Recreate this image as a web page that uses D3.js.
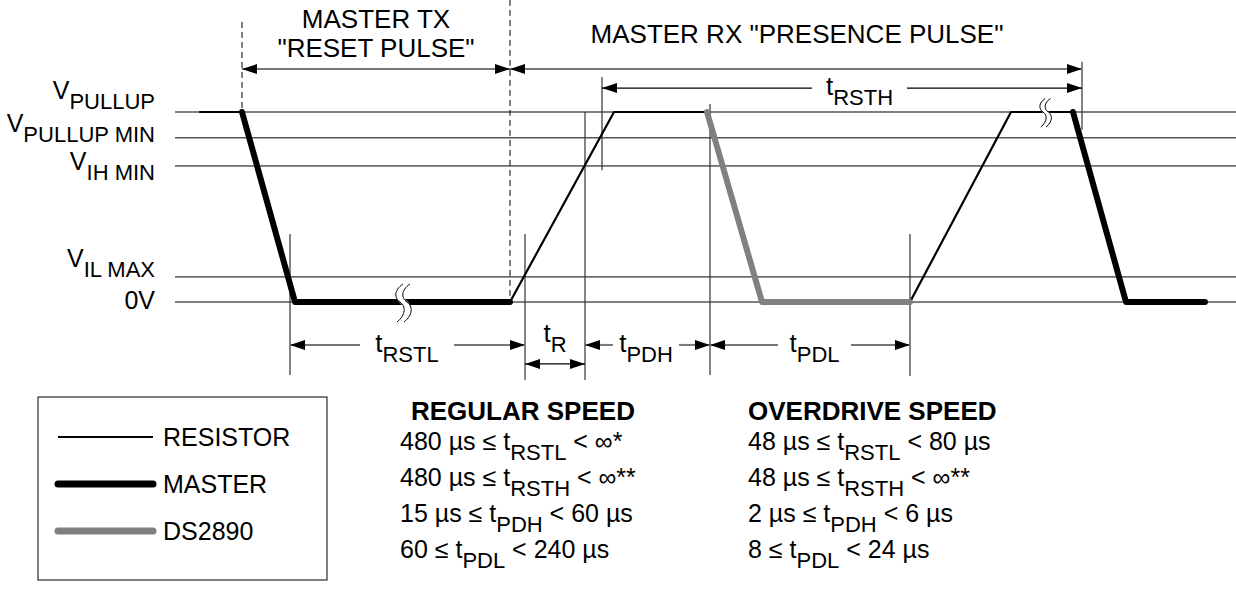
<!DOCTYPE html>
<html>
<head>
<meta charset="utf-8">
<script src="https://cdn.jsdelivr.net/npm/d3@7"></script>
<style>
  body { margin: 0; background: #fff; }
  svg text { font-family: "Liberation Sans", Arial, sans-serif; fill: #000; }
</style>
</head>
<body>
<div id="chart"></div>
<script>
// Voltage levels (schematic volts) and their labels
const levelMain = ["V", "V", "V", "V", "0V"];
const levelSub = ["PULLUP", "PULLUP MIN", "IH MIN", "IL MAX", ""];
const levelVolts = [5, 4.32, 3.58, 0.66, 0];

// Waveform pieces, [time, volts]
const resistorPieces = [
    [[200, 5], [242, 5]],
    [[510, 0], [614, 5], [707, 5]],
    [[910, 0], [1011, 5], [1073, 5]]
];
const masterPieces = [
    [[242, 5], [295, 0], [510, 0]],
    [[1073, 5], [1126, 0], [1205, 0]]
];
const ds2890Pieces = [
    [[707, 5], [762, 0], [910, 0]]
];

// Break marks [time, volts, size]
const breaks = [[400, 0, 1], [1043, 5, 0.75]];

// Timing markers [time, top volts, bottom volts]
const markers = [
    [290, 1.79, -1.92], [525, 1.79, -2.05], [585, 5, -2.05],
    [602, 5.92, 3.47], [710, 5.21, -1.92], [910, 1.79, -1.95], [1082, 6.32, 4.53]
];
const dashedMarkers = [[242, 7.37, 5], [510, 7.95, 0]];

// Dimension arrows: from, to, volts level, label main, label sub, text gap
const dims = [
    { from: 242, to: 510, v: 6.13, main: "", sub: "", gap: null, grey: true },
    { from: 510, to: 1082, v: 6.13, main: "", sub: "", gap: null, grey: true },
    { from: 602, to: 1082, v: 5.63, main: "t", sub: "RSTH", gap: [812, 907], grey: false },
    { from: 290, to: 525, v: -1.13, main: "t", sub: "RSTL", gap: [360, 454], grey: true },
    { from: 525, to: 585, v: -1.63, main: "t", sub: "R", gap: null, grey: false },
    { from: 585, to: 710, v: -1.13, main: "t", sub: "PDH", gap: [613, 679], grey: true },
    { from: 710, to: 910, v: -1.13, main: "t", sub: "PDL", gap: [778, 851], grey: true }
];

const legendNames = ["RESISTOR", "MASTER", "DS2890"];

const specHeads = ["REGULAR SPEED", "OVERDRIVE SPEED"];
const specRegular = [
    ["480 µs ≤ t", "RSTL", " < ∞*"],
    ["480 µs ≤ t", "RSTH", " < ∞**"],
    ["15 µs ≤ t", "PDH", " < 60 µs"],
    ["60 ≤ t", "PDL", " < 240 µs"]
];
const specOverdrive = [
    ["48 µs ≤ t", "RSTL", " < 80 µs"],
    ["48 µs ≤ t", "RSTH", " < ∞**"],
    ["2 µs ≤ t", "PDH", " < 6 µs"],
    ["8 ≤ t", "PDL", " < 24 µs"]
];

const width = 1236;
const height = 603;

const svg = d3.select("#chart")
    .append("svg")
    .attr("width", width)
    .attr("height", height);

const x = d3.scaleLinear().domain([0, width]).range([0, width]);
const y = d3.scaleLinear().domain([0, 5]).range([302, 112]);

const line = d3.line()
    .x(d => x(d[0]))
    .y(d => y(d[1]));

// text with subscript helper
const subText = (g, px, py, main, sub, rest, size, subSize, anchor, weight) => {
    const t = g.append("text")
        .attr("x", px)
        .attr("y", py)
        .attr("text-anchor", anchor || "start")
        .attr("font-size", size)
        .attr("font-weight", weight || "normal");
    t.append("tspan").text(main);
    if (sub) {
        t.append("tspan").attr("dy", subSize * 0.45).attr("font-size", subSize).text(sub);
    }
    if (rest) {
        t.append("tspan").attr("dy", sub ? -subSize * 0.45 : 0).text(rest);
    }
    return t;
};

// Level lines
svg.selectAll(".level")
    .data(levelVolts)
    .join("line")
    .attr("x1", 175)
    .attr("x2", width)
    .attr("y1", d => y(d))
    .attr("y2", d => y(d))
    .attr("stroke", "#000")
    .attr("stroke-width", 1);

// Level labels
const labelShift = [-13, -6, 4, -10, 7];
levelVolts.forEach((v, i) => {
    subText(svg, 155, y(v) + labelShift[i], levelMain[i], levelSub[i], "", 25, 22, "end");
});

// Markers
svg.selectAll(".marker")
    .data(markers)
    .join("line")
    .attr("x1", d => x(d[0]))
    .attr("x2", d => x(d[0]))
    .attr("y1", d => y(d[1]))
    .attr("y2", d => y(d[2]))
    .attr("stroke", "#333")
    .attr("stroke-width", 1.2);

svg.selectAll(".dashed")
    .data(dashedMarkers)
    .join("line")
    .attr("x1", d => x(d[0]))
    .attr("x2", d => x(d[0]))
    .attr("y1", d => y(d[1]))
    .attr("y2", d => y(d[2]))
    .attr("stroke", "#000")
    .attr("stroke-width", 1)
    .attr("stroke-dasharray", "6,4");

// Waveforms
const drawPieces = (pieces, color, w) => {
    svg.append("g")
        .selectAll("path")
        .data(pieces)
        .join("path")
        .attr("d", line)
        .attr("fill", "none")
        .attr("stroke", color)
        .attr("stroke-width", w)
        .attr("stroke-linejoin", "round")
        .attr("stroke-linecap", "round");
};
drawPieces(resistorPieces, "#000", 2.2);
drawPieces(masterPieces, "#000", 6);
drawPieces(ds2890Pieces, "#808080", 6);

// Break marks
const sPath = (s) => `M${3 * s},${-18 * s} C${-6 * s},${-12 * s} ${-6 * s},${-4 * s} 0,0 ` +
    `C${6 * s},${4 * s} ${6 * s},${13 * s} ${-3 * s},${20 * s}`;
breaks.forEach(b => {
    const g = svg.append("g").attr("transform", `translate(${x(b[0])},${y(b[1])})`);
    g.append("path").attr("d", sPath(b[2])).attr("transform", `translate(${3.5 * b[2]},0)`)
        .attr("fill", "none").attr("stroke", "#fff").attr("stroke-width", 6 * b[2]);
    [0, 7].forEach(o => {
        g.append("path").attr("d", sPath(b[2])).attr("transform", `translate(${o * b[2]},0)`)
            .attr("fill", "none").attr("stroke", "#000").attr("stroke-width", 1);
    });
});

// Arrow heads
const arrowHead = (px, py, dir) => {
    svg.append("path")
        .attr("d", `M${px},${py} L${px - dir * 15},${py - 5} L${px - dir * 15},${py + 5} Z`)
        .attr("fill", "#000");
};

dims.forEach(d => {
    const yy = y(d.v);
    const col = d.grey ? "#777" : "#000";
    const sw = d.grey ? 2 : 1.2;
    const segs = d.gap ? [[d.from, d.gap[0]], [d.gap[1], d.to]] : [[d.from, d.to]];
    segs.forEach(s => {
        svg.append("line")
            .attr("x1", x(s[0])).attr("x2", x(s[1]))
            .attr("y1", yy).attr("y2", yy)
            .attr("stroke", col).attr("stroke-width", sw);
    });
    arrowHead(x(d.from), yy, -1);
    arrowHead(x(d.to), yy, 1);
    if (d.main) {
        const cx = d.gap ? (x(d.gap[0]) + x(d.gap[1])) / 2 : (x(d.from) + x(d.to)) / 2;
        const ty = d.gap ? yy + 7 : yy - 22;
        subText(svg, cx, ty, d.main, d.sub, "", 26, 22, "middle");
    }
});

// Section titles
svg.append("text").attr("x", 376).attr("y", 28).attr("text-anchor", "middle")
    .attr("font-size", 26).text("MASTER TX");
svg.append("text").attr("x", 376).attr("y", 57).attr("text-anchor", "middle")
    .attr("font-size", 26).text("\"RESET PULSE\"");
svg.append("text").attr("x", 797).attr("y", 43).attr("text-anchor", "middle")
    .attr("font-size", 26).text("MASTER RX \"PRESENCE PULSE\"");

// Legend
svg.append("rect")
    .attr("x", 38).attr("y", 397)
    .attr("width", 289).attr("height", 183)
    .attr("fill", "none").attr("stroke", "#000").attr("stroke-width", 1);

const legendStyle = [["#000", 2], ["#000", 7], ["#808080", 7]];
legendNames.forEach((name, i) => {
    const ly = 437 + i * 47;
    svg.append("line")
        .attr("x1", 58).attr("x2", 153)
        .attr("y1", ly).attr("y2", ly)
        .attr("stroke", legendStyle[i][0])
        .attr("stroke-width", legendStyle[i][1])
        .attr("stroke-linecap", i === 0 ? "butt" : "round");
    svg.append("text")
        .attr("x", 163).attr("y", ly + 9)
        .attr("font-size", 25)
        .text(name);
});

// Spec table
const specCols = [[411, 400, specRegular], [748, 748, specOverdrive]];
specCols.forEach((c, ci) => {
    svg.append("text")
        .attr("x", c[0]).attr("y", 420)
        .attr("font-size", 26)
        .attr("font-weight", "bold")
        .text(specHeads[ci]);
    c[2].forEach((row, ri) => {
        subText(svg, c[1], 450 + ri * 36, row[0], row[1], row[2], 25, 22, "start");
    });
});
</script>
</body>
</html>
